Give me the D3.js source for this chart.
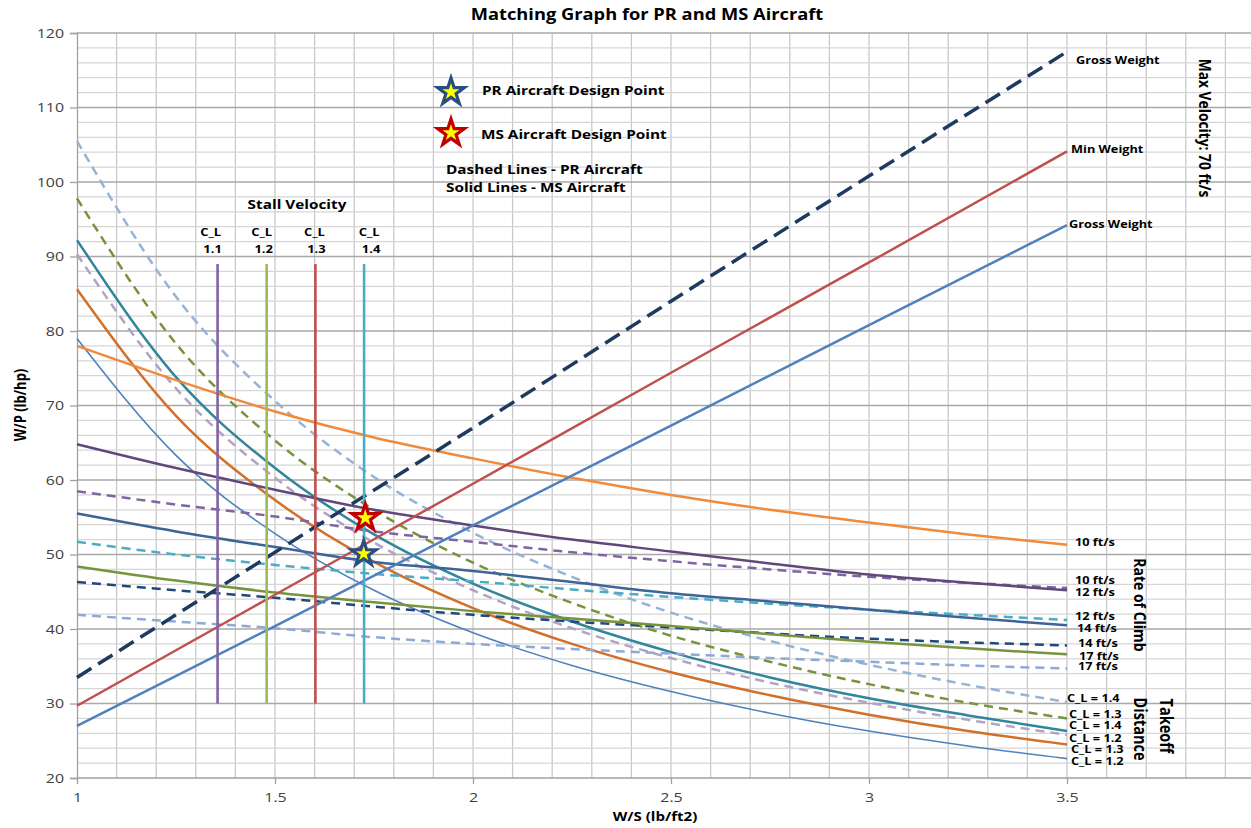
<!DOCTYPE html>
<html>
<head>
<meta charset="utf-8">
<script src="https://cdn.jsdelivr.net/npm/d3@7"></script>
<style>
  body { margin: 0; background: #fff; }
  text { font-family: "Open Sans", Lato, "Liberation Sans", sans-serif; fill: #000; }
</style>
</head>
<body>
<svg id="chart" width="1251" height="828"></svg>
<script>
// ---- W/S sample points (lb/ft2) ----
const wsLine = [1, 1.5, 2, 2.5, 3, 3.5];
const wsCurve = [1, 1.25, 1.5, 1.75, 2, 2.25, 2.5, 2.75, 3, 3.25, 3.5];

// ---- Max velocity 70 ft/s (W/P, lb/hp) ----
const vmaxGrossPR = [33.5, 50.3, 67.0, 84.0, 100.8, 117.5];
const vmaxMinMS   = [29.7, 44.6, 59.5, 74.4, 89.2, 104.1];
const vmaxGrossMS = [27.0, 40.4, 53.9, 67.3, 80.8, 94.2];

// ---- Rate of climb (W/P, lb/hp) ----
const roc10MS = [78.0, 73.4, 69.2, 65.7, 62.9, 60.3, 58.0, 56.0, 54.3, 52.7, 51.3];
const roc12MS = [64.8, 61.6, 58.7, 56.0, 53.9, 52.0, 50.4, 48.8, 47.3, 46.2, 45.2];
const roc14MS = [55.5, 53.1, 51.0, 49.0, 47.8, 46.3, 44.8, 43.7, 42.6, 41.5, 40.5];
const roc17MS = [48.4, 46.5, 44.9, 43.6, 42.4, 41.4, 40.4, 39.3, 38.3, 37.4, 36.6];
const roc10PR = [58.5, 56.7, 55.1, 53.1, 51.7, 50.3, 49.1, 48.0, 47.0, 46.2, 45.5];
const roc12PR = [51.7, 50.0, 48.6, 47.4, 46.4, 45.3, 44.3, 43.4, 42.6, 41.9, 41.2];
const roc14PR = [46.3, 45.2, 44.2, 43.0, 41.9, 41.0, 40.2, 39.4, 38.7, 38.2, 37.8];
const roc17PR = [41.9, 41.0, 40.1, 38.9, 38.0, 37.3, 36.7, 36.1, 35.6, 35.1, 34.7];

// ---- Takeoff distance (W/P, lb/hp) ----
const to14MS = [92.2, 73.8, 61.6, 52.7, 46.1, 41.0, 36.9, 33.5, 30.7, 28.4, 26.3];
const to13MS = [85.6, 68.6, 57.3, 49.0, 42.8, 38.0, 34.2, 31.1, 28.5, 26.3, 24.5];
const to12MS = [79.0, 63.3, 52.8, 45.2, 39.5, 35.1, 31.6, 28.7, 26.3, 24.3, 22.6];
const to14PR = [105.5, 84.6, 70.6, 60.4, 52.9, 47.0, 42.2, 38.4, 35.2, 32.5, 30.2];
const to13PR = [97.8, 78.3, 65.3, 56.0, 48.9, 43.5, 39.1, 35.6, 32.6, 30.1, 28.0];
const to12PR = [90.3, 72.3, 60.3, 51.6, 45.2, 40.1, 36.1, 32.8, 30.1, 27.8, 25.8];

// ---- Stall velocity (vertical limits) ----
const stallCL = ["1.1", "1.2", "1.3", "1.4"];
const stallWS = [1.355, 1.479, 1.602, 1.725];
const stallWP = [30, 89];

// ---- Design points [W/S, W/P] ----
const designPR = [1.724, 50.1];
const designMS = [1.728, 54.9];

// ---- Axis ticks ----
const yTicks = [20, 30, 40, 50, 60, 70, 80, 90, 100, 110, 120];
const xTicks = [1, 1.5, 2, 2.5, 3, 3.5];

// ---------------------------------------------------------------
const W = 1251, H = 828;
const SX = 1.18;   // horizontal text stretch
const svg = d3.select("#chart");
svg.append("rect").attr("width", W).attr("height", H).attr("fill", "#fff");

const x = d3.scaleLinear().domain([1, 3.5]).range([77, 1067]);
const y = d3.scaleLinear().domain([20, 120]).range([778, 33]);
const xEnd = x.invert(W);

// text helper: positioned via transform so the glyphs can be widened
function label(parent, px, py, str, o = {}) {
  const rot = o.rotate ? ` rotate(${o.rotate})` : "";
  return parent.append("text")
    .attr("transform", `translate(${px},${py}) scale(${SX},1)${rot}`)
    .attr("text-anchor", o.anchor || "start")
    .attr("dominant-baseline", o.baseline || "auto")
    .attr("font-size", o.size || 12)
    .attr("font-weight", o.weight || 700)
    .text(str);
}

// grid
const grid = svg.append("g");
grid.selectAll("line.v").data(d3.range(11, Math.floor(xEnd * 10) + 1).map(d => d / 10))
  .join("line")
  .attr("x1", d => x(d)).attr("x2", d => x(d))
  .attr("y1", y(120)).attr("y2", y(20))
  .attr("stroke", "#c9c9c9").attr("stroke-width", 1.3);
grid.selectAll("line.h").data(d3.range(22, 121, 2))
  .join("line")
  .attr("x1", x(1)).attr("x2", W)
  .attr("y1", d => y(d)).attr("y2", d => y(d))
  .attr("stroke", d => d % 10 === 0 ? "#a9a9a9" : "#d6d6d6")
  .attr("stroke-width", 1.3);

// axes
const xAxis = d3.axisBottom(x).tickValues(xTicks).tickSize(6).tickFormat(d3.format("~g"));
const yAxis = d3.axisLeft(y).tickValues(yTicks).tickSize(7).tickFormat(d3.format("d"));
const gx = svg.append("g").attr("transform", `translate(0,${y(20)})`).call(xAxis);
const gy = svg.append("g").attr("transform", `translate(${x(1)},0)`).call(yAxis);
gx.select(".domain").attr("d", `M${x(1)},0H${W}`);
[gx, gy].forEach(g => {
  g.select(".domain").attr("stroke", "#a0a0a0").attr("stroke-width", 1.3);
  g.selectAll(".tick line").attr("stroke", "#a0a0a0").attr("stroke-width", 1.3);
  g.selectAll(".tick text").attr("font-size", 13.5)
    .style("fill", "#404040")
    .style("font-family", "'Open Sans', sans-serif")
    .attr("transform", `scale(${SX},1)`);
});
gx.selectAll(".tick text").attr("y", 14).attr("dy", "0.71em");
gy.selectAll(".tick text").attr("x", -13 / SX);

// series lines
const line = d3.line().curve(d3.curveMonotoneX);
const series = [
  { xs: wsCurve, ys: to12MS, color: "#4F81BD", w: 1.6, dash: null },
  { xs: wsCurve, ys: to13MS, color: "#D2702A", w: 2.5, dash: null },
  { xs: wsCurve, ys: to14MS, color: "#31859C", w: 2.5, dash: null },
  { xs: wsCurve, ys: to12PR, color: "#B3A2C7", w: 2.5, dash: "9,6" },
  { xs: wsCurve, ys: to13PR, color: "#77933C", w: 2.5, dash: "9,6" },
  { xs: wsCurve, ys: to14PR, color: "#95B3D7", w: 2.5, dash: "9,6" },
  { xs: wsCurve, ys: roc17PR, color: "#8EA9D6", w: 2.5, dash: "9,6" },
  { xs: wsCurve, ys: roc14PR, color: "#1F497D", w: 2.5, dash: "9,6" },
  { xs: wsCurve, ys: roc12PR, color: "#4BACC6", w: 2.5, dash: "9,6" },
  { xs: wsCurve, ys: roc10PR, color: "#8064A2", w: 2.5, dash: "9,6" },
  { xs: wsCurve, ys: roc17MS, color: "#77933C", w: 2.5, dash: null },
  { xs: wsCurve, ys: roc14MS, color: "#3C6496", w: 2.5, dash: null },
  { xs: wsCurve, ys: roc12MS, color: "#60497A", w: 2.5, dash: null },
  { xs: wsCurve, ys: roc10MS, color: "#F08A3C", w: 2.5, dash: null },
  { xs: wsLine, ys: vmaxGrossMS, color: "#4F81BD", w: 2.5, dash: null },
  { xs: wsLine, ys: vmaxMinMS, color: "#C0504D", w: 2.5, dash: null },
  { xs: wsLine, ys: vmaxGrossPR, color: "#1F3A60", w: 3.5, dash: "17,8" }
];
svg.append("g").selectAll("path").data(series).join("path")
  .attr("d", s => line(s.xs.map((v, i) => [x(v), y(s.ys[i])])))
  .attr("fill", "none")
  .attr("stroke", s => s.color)
  .attr("stroke-width", s => s.w)
  .attr("stroke-dasharray", s => s.dash);

// stall velocity limits
const stallColors = ["#8064A2", "#9BBB59", "#C0504D", "#4BACC6"];
const stallLabelShift = [-5, -3, 1, 7];
const stall = svg.append("g");
stall.selectAll("line").data(stallWS).join("line")
  .attr("x1", d => x(d)).attr("x2", d => x(d))
  .attr("y1", y(stallWP[0])).attr("y2", y(stallWP[1]))
  .attr("stroke", (d, i) => stallColors[i]).attr("stroke-width", 2.6);
stallWS.forEach((d, i) => {
  label(stall, x(d) + stallLabelShift[i] - 2, 236, "C_L", { anchor: "middle", size: 11 });
  label(stall, x(d) + stallLabelShift[i], 253, stallCL[i], { anchor: "middle", size: 11 });
});
label(svg, 297, 209, "Stall Velocity", { anchor: "middle", size: 13 });

// stars
const starPath = r => d3.symbol(d3.symbolStar, r * r / 0.8908130915)();
function star(cx, cy, r, stroke) {
  svg.append("path").attr("d", starPath(r))
    .attr("transform", `translate(${cx},${cy})`)
    .attr("fill", "#FFFF00").attr("stroke", stroke).attr("stroke-width", 3.2)
    .attr("stroke-linejoin", "miter");
}
star(x(designPR[0]), y(designPR[1]), 13, "#2A4E7F");
star(x(designMS[0]), y(designMS[1]), 14, "#C00000");

// legend
star(451, 92, 14, "#2A4E7F");
star(451, 133, 14, "#C00000");
const legend = svg.append("g");
label(legend, 482, 95, "PR Aircraft Design Point", { size: 13 });
label(legend, 481, 139, "MS Aircraft Design Point", { size: 13 });
label(legend, 446, 174, "Dashed Lines - PR Aircraft", { size: 13 });
label(legend, 446, 192, "Solid Lines - MS Aircraft", { size: 13 });

// end-of-line labels
const endLabels = [
  { t: "Gross Weight", at: 116.5, dx: 9 },
  { t: "Min Weight", at: 104.5, dx: 4 },
  { t: "Gross Weight", at: 94.45, dx: 2 },
  { t: "10 ft/s", at: 51.7, dx: 8 },
  { t: "10 ft/s", at: 46.6, dx: 8 },
  { t: "12 ft/s", at: 45.1, dx: 8 },
  { t: "12 ft/s", at: 41.8, dx: 8 },
  { t: "14 ft/s", at: 40.2, dx: 10 },
  { t: "14 ft/s", at: 38.2, dx: 11 },
  { t: "17 ft/s", at: 36.5, dx: 12 },
  { t: "17 ft/s", at: 35.1, dx: 11 },
  { t: "C_L = 1.4", at: 30.8, dx: 0 },
  { t: "C_L = 1.3", at: 28.7, dx: 2 },
  { t: "C_L = 1.4", at: 27.2, dx: 2 },
  { t: "C_L = 1.2", at: 25.4, dx: 2 },
  { t: "C_L = 1.3", at: 24.0, dx: 4 },
  { t: "C_L = 1.2", at: 22.3, dx: 4 }
];
const endG = svg.append("g");
endLabels.forEach(d => {
  label(endG, x(3.5) + d.dx, y(d.at), d.t, { size: 10.8, baseline: "central" });
});

// rotated group titles (reading top to bottom)
const vOpts = s => ({ anchor: "middle", baseline: "central", rotate: 90, size: s });
label(svg, 1205, 128, "Max Velocity: 70 ft/s", vOpts(13.8));
label(svg, 1140, 605, "Rate of Climb", vOpts(14));
label(svg, 1166, 726, "Takeoff", vOpts(14.5));
label(svg, 1140, 729, "Distance", vOpts(14.5));

// chart and axis titles
label(svg, 647, 20, "Matching Graph for PR and MS Aircraft", { anchor: "middle", size: 15.5 });
label(svg, 655, 821, "W/S (lb/ft2)", { anchor: "middle", size: 12.8 });
label(svg, 20, 405, "W/P (lb/hp)", { anchor: "middle", baseline: "central", rotate: -90, size: 13 });
</script>
</body>
</html>
